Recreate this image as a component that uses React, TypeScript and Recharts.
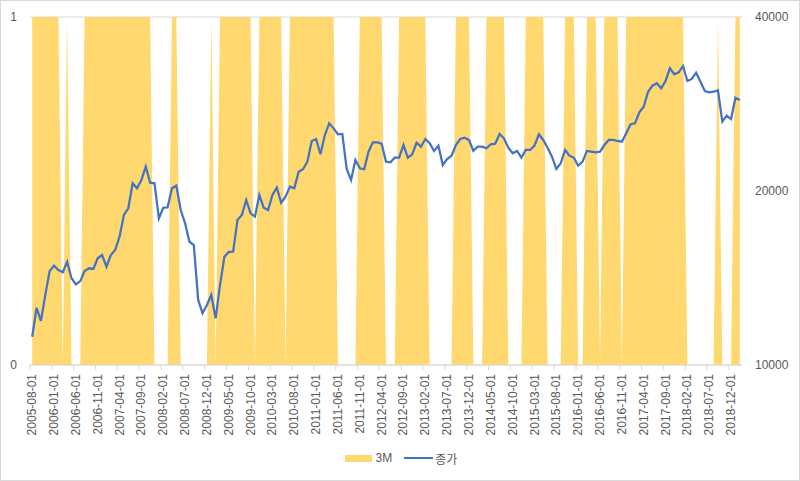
import React from 'react';
import { ComposedChart, Area, Line, XAxis, YAxis, CartesianGrid, Legend } from 'recharts';

const START_YEAR = 2005;
const START_MONTH = 8;
const MONTH_COUNT = 163;

// 3M signal (0/1), Aug 2005 .. Feb 2019, grouped by year
const signal3M: number[] = [
  1, 1, 1, 1, 1, // 2005
  1, 1, 0, 1, 0, 0, 0, 1, 1, 1, 1, 1, // 2006
  1, 1, 1, 1, 1, 1, 1, 1, 1, 1, 1, 0, // 2007
  0, 0, 0, 1, 1, 0, 0, 0, 0, 0, 0, 0, // 2008
  1, 0, 1, 1, 1, 1, 1, 1, 1, 1, 0, 1, // 2009
  1, 1, 1, 1, 1, 0, 1, 1, 1, 1, 1, 1, // 2010
  1, 1, 1, 1, 1, 0, 0, 0, 0, 0, 1, 1, // 2011
  1, 1, 1, 1, 0, 0, 0, 1, 1, 1, 1, 1, // 2012
  1, 1, 0, 0, 0, 0, 0, 0, 1, 1, 1, 1, // 2013
  0, 0, 0, 1, 1, 1, 1, 1, 0, 0, 0, 0, // 2014
  1, 1, 1, 1, 1, 0, 0, 0, 0, 1, 1, 1, // 2015
  0, 0, 1, 1, 1, 0, 1, 1, 1, 1, 0, 1, // 2016
  1, 1, 1, 1, 1, 1, 1, 1, 1, 1, 1, 1, // 2017
  1, 0, 0, 0, 0, 0, 0, 0, 1, 0, 0, 0, // 2018
  1, 1, // 2019
];

// 종가 (close), grouped by year
const closePrice: number[] = [
  11190, 12560, 11920, 13220, 14540, // 2005
  14850, 14600, 14470, 15090, 14130, 13790, 13970, 14540, 14700, 14660, 15300, 15500, // 2006
  14790, 15500, 15810, 16670, 18180, 18670, 20620, 20220, 20900, 22030, 20670, 20620, // 2007
  17940, 18710, 18740, 20220, 20430, 18540, 17590, 16340, 16130, 12960, 12290, 12700, // 2008
  13220, 12040, 13750, 15390, 15690, 15700, 17820, 18180, 19300, 18300, 18060, 19680, // 2009
  18710, 18540, 19680, 20270, 19090, 19550, 20350, 20220, 21600, 21810, 22480, 24410, // 2010
  24600, 23150, 25000, 26190, 25670, 25070, 25100, 21830, 20900, 22630, 21890, 21810, // 2011
  23390, 24280, 24280, 24150, 22480, 22420, 22840, 22840, 24020, 22840, 23150, 24240, // 2012
  23860, 24600, 24190, 23460, 23960, 22180, 22720, 23020, 24020, 24600, 24730, 24510, // 2013
  23480, 23860, 23860, 23710, 24090, 24150, 25100, 24670, 23770, 23240, 23460, 22840, // 2014
  23550, 23550, 23960, 25070, 24510, 23770, 22930, 21830, 22330, 23550, 23020, 22840, // 2015
  22120, 22480, 23460, 23390, 23330, 23390, 24020, 24510, 24510, 24410, 24340, 25170, // 2016
  26090, 26190, 27370, 27980, 29700, 30420, 30720, 30110, 31000, 32610, 31840, 32090, // 2017
  32910, 31000, 31250, 32040, 30910, 29790, 29630, 29700, 29870, 26360, 27000, 26640, // 2018
  29000, 28740, // 2019
];

const leftTicks = [0, 1];
const rightTicks = [10000, 20000, 40000];

const pad = (n: number) => (n < 10 ? '0' + n : String(n));
const categories: string[] = Array.from({ length: MONTH_COUNT }, (_, i) => {
  const m = START_MONTH - 1 + i;
  const y = START_YEAR + Math.floor(m / 12);
  return `${y}-${pad((m % 12) + 1)}-01`;
});

const data = categories.map((date, i) => ({ date, m3: signal3M[i], close: closePrice[i] }));

const FONT = "'Liberation Sans', Arial, 'Noto Sans CJK KR', sans-serif";
const TEXT = '#595959';
const YELLOW = '#FFD96F';
const BLUE = '#4472C4';
const GRID = '#d9d9d9';

const XTick = (props: any) => {
  const { x, y, payload } = props;
  return (
    <g transform={`translate(${x},${y})`}>
      <line x1={-2.2} x2={-2.2} y1={0} y2={5} stroke={GRID} />
      <text
        transform="rotate(-90)"
        x={-9}
        y={4}
        textAnchor="end"
        fill={TEXT}
        fontSize={12}
        fontFamily={FONT}
      >
        {payload.value}
      </text>
    </g>
  );
};

const LegendContent = () => (
  <div
    style={{
      display: 'flex',
      justifyContent: 'center',
      alignItems: 'center',
      height: 20,
      fontFamily: FONT,
      fontSize: 12,
      color: TEXT,
      paddingLeft: 2,
    }}
  >
    <span style={{ display: 'inline-block', width: 27, height: 7, background: YELLOW, marginRight: 4 }} />
    <span style={{ marginRight: 12 }}>3M</span>
    <span style={{ display: 'inline-block', width: 29, height: 0, borderTop: `2.25px solid ${BLUE}`, marginRight: 2 }} />
    <span>종가</span>
  </div>
);

export default function App() {
  return (
    <div style={{ position: 'absolute', left: 0, top: 0, width: 800, height: 481, background: '#fff' }}>
      <ComposedChart
        width={800}
        height={481}
        data={data}
        margin={{ top: 17, right: 0, bottom: 13, left: 0 }}
      >
        <CartesianGrid yAxisId="left" vertical={false} stroke={GRID} />
        <XAxis
          dataKey="date"
          scale="point"
          padding={{ left: 2.2, right: 2.2 }}
          interval={4}
          height={83}
          tickLine={false}
          tickSize={0}
          tickMargin={0}
          axisLine={{ stroke: GRID }}
          tick={<XTick />}
        />
        <YAxis
          yAxisId="left"
          domain={[0, 1]}
          ticks={leftTicks}
          width={30}
          axisLine={false}
          tickLine={false}
          tickSize={0}
          tickMargin={13}
          tick={{ fill: TEXT, fontSize: 12, fontFamily: FONT }}
        />
        <YAxis
          yAxisId="right"
          orientation="right"
          scale="log"
          domain={[10000, 40000]}
          ticks={rightTicks}
          allowDataOverflow
          width={58}
          axisLine={false}
          tickLine={false}
          tickSize={0}
          tickMargin={13}
          tick={{ fill: TEXT, fontSize: 12, fontFamily: FONT, textAnchor: 'start' }}
        />
        <Area
          yAxisId="left"
          type="linear"
          dataKey="m3"
          name="3M"
          fill={YELLOW}
          fillOpacity={1}
          stroke="none"
          isAnimationActive={false}
        />
        <Line
          yAxisId="right"
          type="linear"
          dataKey="close"
          name="종가"
          stroke={BLUE}
          strokeWidth={2.25}
          dot={false}
          isAnimationActive={false}
        />
        <Legend verticalAlign="bottom" content={<LegendContent />} />
      </ComposedChart>
      <div
        style={{
          position: 'absolute',
          left: 0,
          top: 0,
          width: 800,
          height: 481,
          boxSizing: 'border-box',
          border: `1px solid ${GRID}`,
          pointerEvents: 'none',
        }}
      />
    </div>
  );
}
